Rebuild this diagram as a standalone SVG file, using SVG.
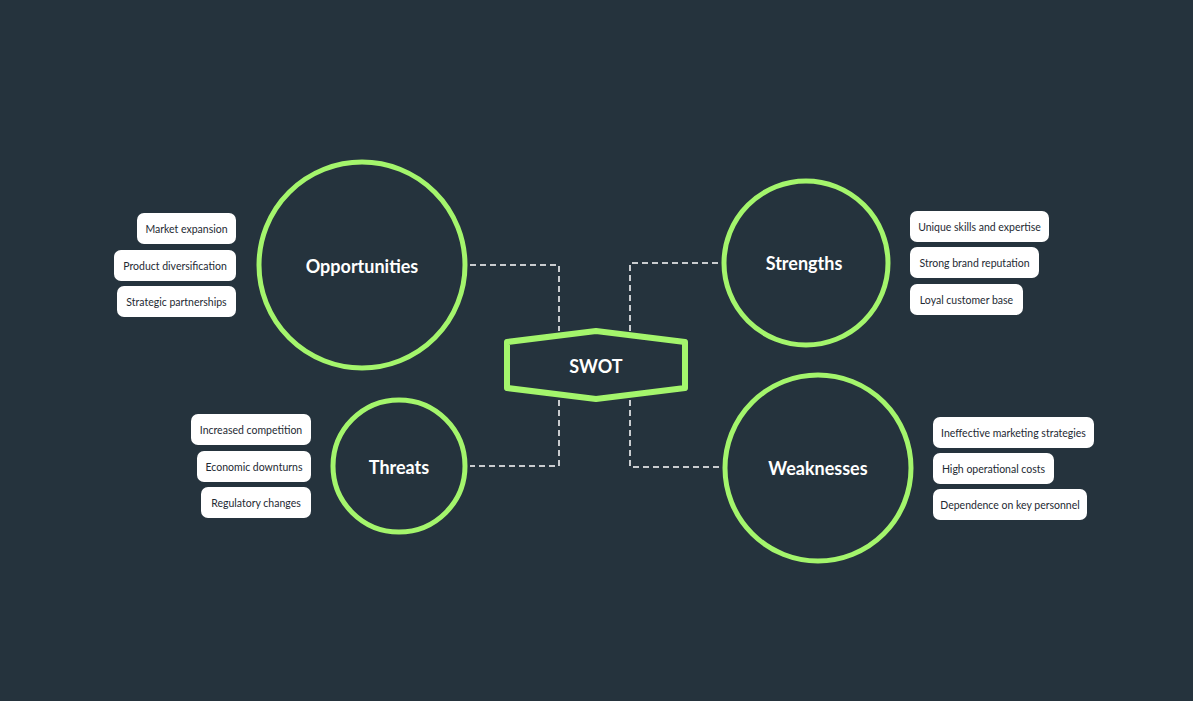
<svg xmlns="http://www.w3.org/2000/svg" width="1193" height="701" viewBox="0 0 1193 701">
<style>
.c{fill:none;stroke:#a4f56c;stroke-width:5}
.p{fill:#fff;rx:7}
.pt{font-family:Lato,"Noto Sans",sans-serif;font-size:10.5px;fill:#1e2a33;text-anchor:middle;dominant-baseline:central}
.h{font-family:Lato,"Noto Sans",sans-serif;font-size:18px;font-weight:bold;fill:#fff;text-anchor:middle;dominant-baseline:central}
.d{fill:none;stroke:#fff;stroke-width:1.5;stroke-dasharray:6 4}
</style>
<rect width="1193" height="701" fill="#25333d"/>
<g id="connectors">
<path class="d" d="M470 265H559V331"/>
<path class="d" d="M559 400V466H470"/>
<path class="d" d="M630 331V263H722"/>
<path class="d" d="M630 400V467H722"/>
</g>
<g id="swot">
<polygon points="507,342 596,331 685,342 685,388 596,399 507,388" fill="#25333d" stroke="#a4f56c" stroke-width="6" stroke-linejoin="round"/>
<text class="h" x="596" y="366" font-size="21">SWOT</text>
</g>
<g id="opportunities">
<circle class="c" cx="362" cy="265" r="103"/>
<text class="h" x="362" y="266">Opportunities</text>
<rect class="p" x="137" y="213" width="99" height="31"/><text class="pt" x="186.5" y="229">Market expansion</text>
<rect class="p" x="114" y="250" width="122" height="31"/><text class="pt" x="175" y="266">Product diversification</text>
<rect class="p" x="117" y="286" width="119" height="31"/><text class="pt" x="176.5" y="302">Strategic partnerships</text>
</g>
<g id="threats">
<circle class="c" cx="399" cy="466" r="66"/>
<text class="h" x="399" y="467">Threats</text>
<rect class="p" x="191" y="414" width="120" height="31"/><text class="pt" x="251" y="430">Increased competition</text>
<rect class="p" x="197" y="451" width="114" height="31"/><text class="pt" x="254" y="467">Economic downturns</text>
<rect class="p" x="201" y="487" width="110" height="31"/><text class="pt" x="256" y="503">Regulatory changes</text>
</g>
<g id="strengths">
<circle class="c" cx="806" cy="263" r="82"/>
<text class="h" x="804" y="263">Strengths</text>
<rect class="p" x="910" y="211" width="139" height="31"/><text class="pt" x="979.5" y="227">Unique skills and expertise</text>
<rect class="p" x="910" y="247" width="129" height="31"/><text class="pt" x="974.5" y="263">Strong brand reputation</text>
<rect class="p" x="910" y="284" width="113" height="31"/><text class="pt" x="966.5" y="300">Loyal customer base</text>
</g>
<g id="weaknesses">
<circle class="c" cx="818" cy="468" r="93"/>
<text class="h" x="818" y="468">Weaknesses</text>
<rect class="p" x="933" y="417" width="161" height="31"/><text class="pt" x="1013.5" y="433">Ineffective marketing strategies</text>
<rect class="p" x="933" y="453" width="121" height="31"/><text class="pt" x="993.5" y="469">High operational costs</text>
<rect class="p" x="933" y="489" width="154" height="31"/><text class="pt" x="1010" y="505">Dependence on key personnel</text>
</g>
</svg>
